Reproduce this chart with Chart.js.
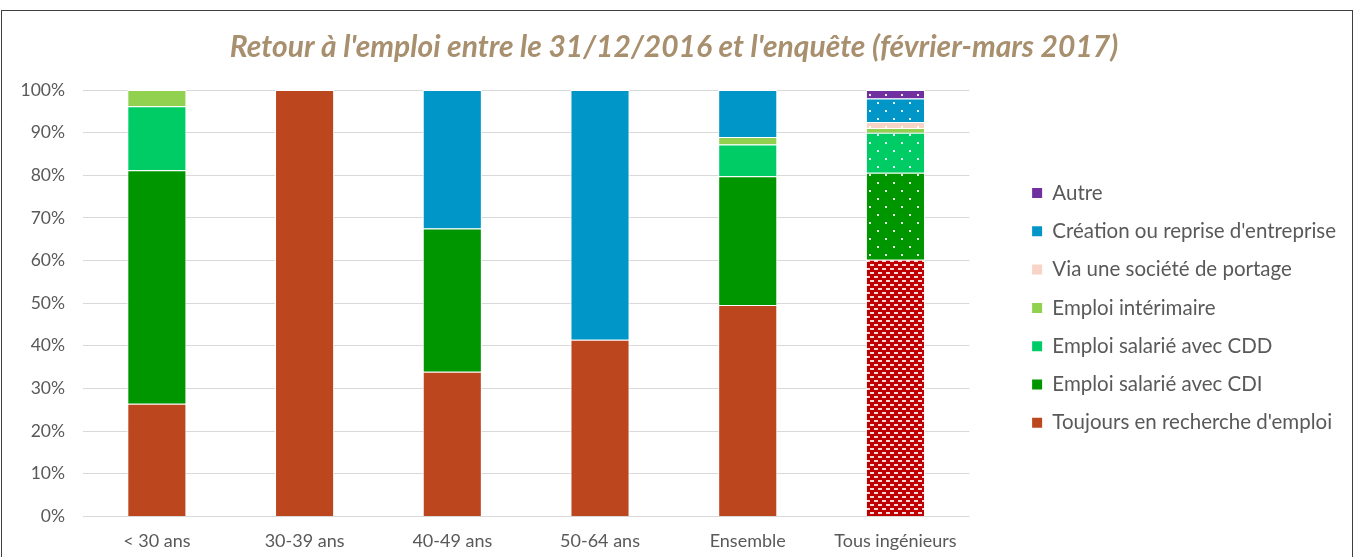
<!DOCTYPE html>
<html><head><meta charset="utf-8">
<script src="https://cdn.jsdelivr.net/npm/chart.js@4"></script>
<style>
html,body{margin:0;padding:0;background:#fff;overflow:hidden;width:1356px;height:557px}
#frame{position:absolute;left:1px;top:10px;width:1352px;height:600px;border:1px solid #3f3f3f;box-sizing:border-box}
#wrap{position:absolute;left:2px;top:11px;width:1349px;height:561px}
</style></head><body>
<div id="frame"></div>
<div id="wrap"><canvas id="c" width="1349" height="561"></canvas></div>
<script>
const titleText = "Retour à l'emploi entre le 31/12/2016 et l'enquête (février-mars 2017)";
const categories = ['< 30 ans', '30-39 ans', '40-49 ans', '50-64 ans', 'Ensemble', 'Tous ingénieurs'];
const seriesNames = ["Toujours en recherche d'emploi", 'Emploi salarié avec CDI', 'Emploi salarié avec CDD', 'Emploi intérimaire', 'Via une société de portage', "Création ou reprise d'entreprise", 'Autre'];
const toujours = [26.4, 100, 33.9, 41.4, 49.6, 60.2];
const cdi      = [54.8, 0, 33.6, 0, 30.2, 20.4];
const cdd      = [15.0, 0, 0, 0, 7.4, 9.4];
const interim  = [3.8, 0, 0, 0, 1.8, 1.1];
const portage  = [0, 0, 0, 0, 0, 1.4];
const creation = [0, 0, 32.5, 58.6, 11.0, 5.5];
const autre    = [0, 0, 0, 0, 0, 2.0];
const yTicks = [0, 10, 20, 30, 40, 50, 60, 70, 80, 90, 100];

const colors = ['#bc461e', '#009600', '#00cc66', '#92d050', '#f8d4c6', '#0096c8', '#7030a0'];
const FONT = 'Lato';

function dotPattern(color){
  const c = document.createElement('canvas'); c.width = 16; c.height = 16;
  const g = c.getContext('2d');
  g.fillStyle = color; g.fillRect(0,0,16,16);
  g.fillStyle = 'rgba(255,255,255,0.9)';
  g.fillRect(3,3,2,2); g.fillRect(11,11,2,2);
  return g.createPattern(c, 'repeat');
}
function brickPattern(color){
  const c = document.createElement('canvas'); c.width = 8; c.height = 8;
  const g = c.getContext('2d');
  g.fillStyle = color; g.fillRect(0,0,8,8);
  g.fillStyle = 'rgba(255,255,255,0.85)';
  g.fillRect(0,1,4,2); g.fillRect(4,5,4,2);
  return g.createPattern(c, 'repeat');
}
const lastPatterns = [brickPattern('#c00000')].concat(colors.slice(1).map(dotPattern));
const allSeries = [toujours, cdi, cdd, interim, portage, creation, autre];

const datasets = allSeries.map((vals, i) => ({
  label: seriesNames[i],
  data: vals.map(v => v === 0 ? null : v),
  backgroundColor: categories.map((_, j) => j === categories.length - 1 ? lastPatterns[i] : colors[i]),
  borderColor: '#ffffff',
  borderWidth: 1,
  barPercentage: 0.4,
  categoryPercentage: 1.0
}));

new Chart(document.getElementById('c'), {
  type: 'bar',
  data: { labels: categories, datasets },
  options: {
    responsive: false,
    animation: false,
    layout: { padding: { left: 0, right: 5, top: 0, bottom: 6 } },
    plugins: {
      title: { display: true, text: titleText, color: '#a8906f',
        font: { family: FONT, size: 30, weight: 'bold', style: 'italic' },
        padding: { top: 18, bottom: 25 } },
      legend: { position: 'right', align: 'start', reverse: true, maxWidth: 400,
        title: { display: true, text: '', font: { size: 10 }, padding: { top: 141.95, bottom: 0 } },
        labels: { boxWidth: 10, boxHeight: 10, padding: 17.8, color: '#595959',
          font: { family: FONT, size: 20.5 },
          generateLabels: (chart) => Chart.defaults.plugins.legend.labels.generateLabels(chart).map(it => {
            it.fillStyle = colors[it.datasetIndex]; it.lineWidth = 0; it.strokeStyle = 'rgba(0,0,0,0)'; return it; }) } },
      tooltip: { enabled: false }
    },
    scales: {
      x: { stacked: true, grid: { display: false, drawTicks: false }, border: { display: false },
        ticks: { color: '#595959', font: { family: FONT, size: 18 }, padding: 14, maxRotation: 0 } },
      y: { stacked: true, min: 0, max: 100,
        afterBuildTicks: s => { s.ticks = yTicks.map(v => ({ value: v })); },
        ticks: { callback: v => v + '%', padding: 18, color: '#595959', font: { family: FONT, size: 17.5 } },
        grid: { color: '#d9d9d9', lineWidth: 1, drawTicks: false }, border: { display: false },
        afterFit: s => { s.width = 81; } },
      y2: { position: 'right', display: true, grid: { display: false, drawTicks: false },
        ticks: { display: false }, border: { display: false },
        afterFit: s => { s.width = 45; } }
    }
  }
});
</script>
</body></html>
